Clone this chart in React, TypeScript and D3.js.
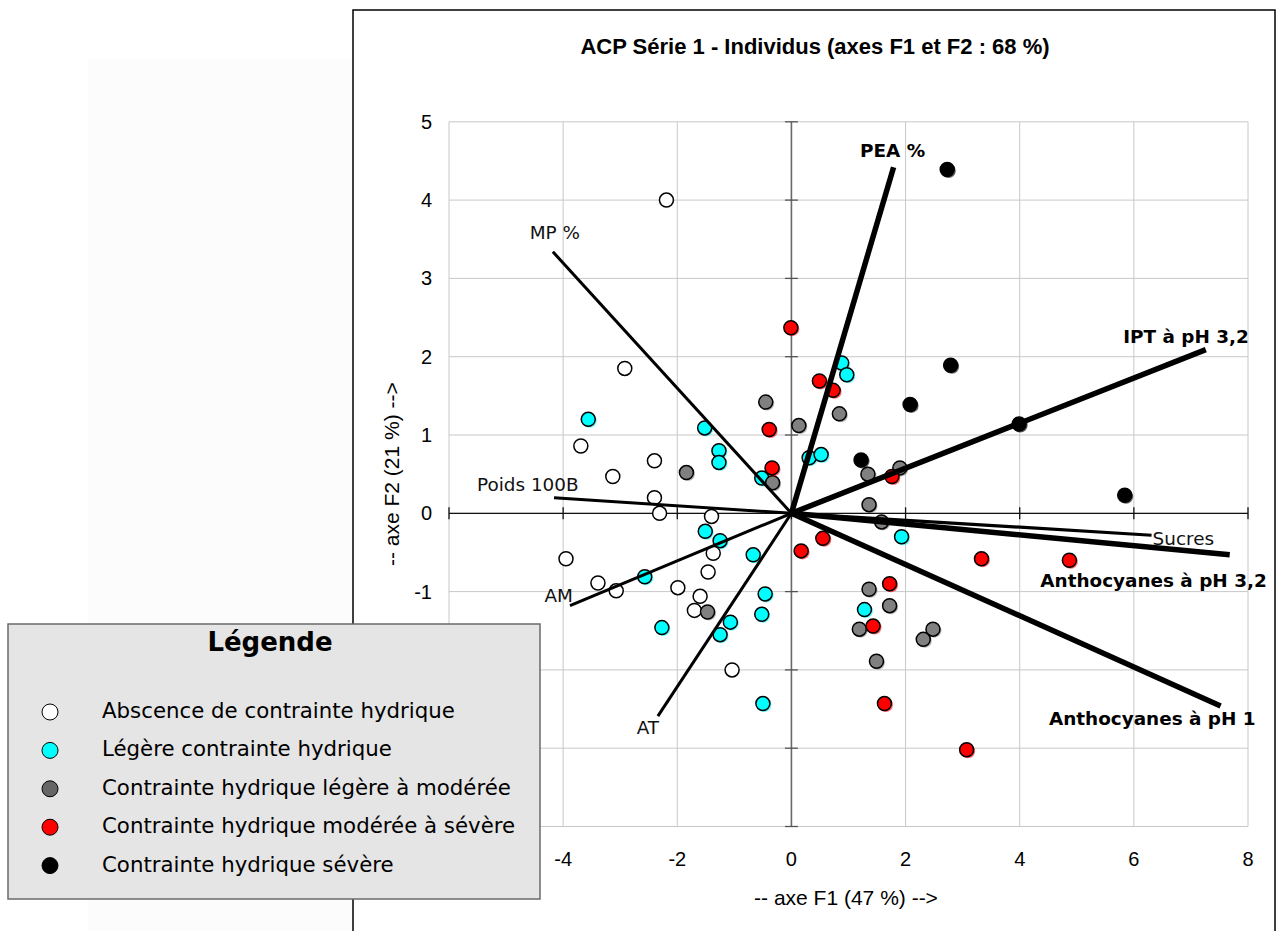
import React from "react";
import * as d3 from "d3";

// ---------- DATA ----------
const groupNames = [
  "Abscence de contrainte hydrique",
  "Légère contrainte hydrique",
  "Contrainte hydrique légère à modérée",
  "Contrainte hydrique modérée à sévère",
  "Contrainte hydrique sévère",
];

const absence: [number, number][] = [
  [-2.19, 4.0], [-2.92, 1.85], [-3.69, 0.86], [-2.4, 0.67], [-3.13, 0.47],
  [-2.4, 0.2], [-2.31, 0.0], [-1.4, -0.04], [-3.95, -0.58], [-3.39, -0.89],
  [-3.07, -0.99], [-1.99, -0.95], [-1.37, -0.51], [-1.46, -0.75], [-1.6, -1.06],
  [-1.7, -1.24], [-1.04, -2.0],
];
const legere: [number, number][] = [
  [-3.56, 1.2], [-1.52, 1.09], [-1.27, 0.8], [-1.27, 0.65], [-0.52, 0.45],
  [-1.51, -0.23], [-1.25, -0.35], [-0.67, -0.53], [-2.57, -0.81], [-0.46, -1.03],
  [-0.52, -1.29], [-1.07, -1.39], [-1.25, -1.55], [-2.27, -1.46], [-0.5, -2.43],
  [0.88, 1.92], [0.97, 1.77], [0.31, 0.71], [0.52, 0.75], [1.93, -0.3], [1.28, -1.23],
];
const legereModeree: [number, number][] = [
  [-0.45, 1.42], [-1.84, 0.52], [-0.33, 0.39], [0.13, 1.12], [-1.47, -1.26],
  [0.84, 1.27], [1.34, 0.5], [1.9, 0.58], [1.36, 0.11], [1.58, -0.11],
  [1.36, -0.97], [1.72, -1.18], [1.19, -1.48], [2.48, -1.48], [2.31, -1.61], [1.49, -1.89],
];
const modereeSevere: [number, number][] = [
  [-0.39, 1.07], [-0.34, 0.58], [-0.01, 2.37], [0.49, 1.69], [0.73, 1.57],
  [1.76, 0.47], [0.17, -0.48], [0.55, -0.32], [3.33, -0.58], [1.72, -0.9],
  [1.43, -1.44], [1.63, -2.43], [3.07, -3.02], [4.87, -0.6],
];
const severe: [number, number][] = [
  [2.73, 4.39], [2.79, 1.89], [2.08, 1.39], [1.22, 0.68], [3.99, 1.14], [5.84, 0.23],
];
const groupsData = [absence, legere, legereModeree, modereeSevere, severe];

const varNames = [
  "MP %", "PEA %", "IPT à pH 3,2", "Sucres", "Anthocyanes à pH 3,2",
  "Anthocyanes à pH 1", "Poids 100B", "AM", "AT",
];
const varF1 = [-4.18, 1.79, 7.26, 6.31, 7.68, 7.52, -4.16, -3.88, -2.34];
const varF2 = [3.34, 4.42, 2.09, -0.28, -0.53, -2.46, 0.2, -1.18, -2.59];

const xTicks = [-6, -4, -2, 0, 2, 4, 6, 8];
const yTicks = [-4, -3, -2, -1, 0, 1, 2, 3, 4, 5];
// tick labels that sit under the legend box in the reference (not visible)
const hiddenXLabels = [-6];
const hiddenYLabels = [-4, -3, -2];

// ---------- STYLE / LAYOUT ----------
const groupFill = ["#ffffff", "#00ffff", "#808080", "#ff0000", "#000000"];
const legendFill = ["#ffffff", "#00ffff", "#666666", "#ff0000", "#000000"];
const varBold = [false, true, true, false, true, true, false, false, false];
// label offsets in px relative to the arrow tip, and anchor
const varLabel: { dx: number; dy: number; anchor: string }[] = [
  { dx: 2, dy: -13, anchor: "middle" },
  { dx: -1, dy: -10, anchor: "middle" },
  { dx: 43, dy: -7, anchor: "end" },
  { dx: 1, dy: 10, anchor: "start" },
  { dx: 37, dy: 32, anchor: "end" },
  { dx: 35, dy: 19, anchor: "end" },
  { dx: -77, dy: -7, anchor: "start" },
  { dx: 3, dy: -4, anchor: "end" },
  { dx: -10, dy: 18, anchor: "middle" },
];

const W = 1276;
const H = 931;
const plot = { left: 449, right: 1248, top: 121.8, bottom: 826.5 };
const arial = "'Liberation Sans', Arial, sans-serif";
const verdana = "'DejaVu Sans', Verdana, sans-serif";

export default function App() {
  const x = d3.scaleLinear().domain([-6, 8]).range([plot.left, plot.right]);
  const y = d3.scaleLinear().domain([-4, 5]).range([plot.bottom, plot.top]);
  const x0 = x(0);
  const y0 = y(0);
  const gridX = d3.range(-6, 9, 2);
  const gridY = d3.range(-4, 6, 1);

  return (
    <svg
      width={W}
      height={H}
      style={{ position: "absolute", left: 0, top: 0, background: "#fff" }}
    >
      {/* faint background panel */}
      <rect x={88} y={59} width={266} height={H - 59} fill="#fcfcfc" />
      {/* chart frame */}
      <rect x={353} y={10} width={922} height={H + 20} fill="#fff" stroke="#000" strokeWidth={1.5} />

      <text
        x={815}
        y={54}
        textAnchor="middle"
        fontFamily={arial}
        fontWeight="bold"
        fontSize={22}
        fill="#000"
      >
        ACP Série 1 - Individus (axes F1 et F2 : 68 %)
      </text>

      {/* grid */}
      <g stroke="#c8c8c8" strokeWidth={1}>
        {gridX.map((v) => (
          <line key={"gx" + v} x1={x(v)} x2={x(v)} y1={plot.top} y2={plot.bottom} />
        ))}
        {gridY.map((v) => (
          <line key={"gy" + v} x1={plot.left} x2={plot.right} y1={y(v)} y2={y(v)} />
        ))}
      </g>

      {/* axes */}
      <line x1={x0} x2={x0} y1={plot.top} y2={plot.bottom} stroke="#6a6a6a" strokeWidth={1.6} />
      {yTicks.map((v) => (
        <line key={"yt" + v} x1={x0 - 6.5} x2={x0 + 6.5} y1={y(v)} y2={y(v)} stroke="#555" strokeWidth={1.3} />
      ))}
      <line x1={plot.left} x2={plot.right} y1={y0} y2={y0} stroke="#111" strokeWidth={1.3} />
      {xTicks.map((v) => (
        <line key={"xt" + v} x1={x(v)} x2={x(v)} y1={y0 - 6} y2={y0 + 6} stroke="#111" strokeWidth={1.3} />
      ))}

      {/* tick labels */}
      {yTicks
        .filter((v) => !hiddenYLabels.includes(v))
        .map((v) => (
          <text
            key={"yl" + v}
            x={432}
            y={y(v) + 7}
            textAnchor="end"
            fontFamily={arial}
            fontSize={20}
            fill="#000"
          >
            {v}
          </text>
        ))}
      {xTicks
        .filter((v) => !hiddenXLabels.includes(v))
        .map((v) => (
          <text
            key={"xl" + v}
            x={x(v)}
            y={866}
            textAnchor="middle"
            fontFamily={arial}
            fontSize={20}
            fill="#000"
          >
            {v}
          </text>
        ))}

      {/* axis titles */}
      <text x={846} y={905} textAnchor="middle" fontFamily={arial} fontSize={21} fill="#000">
        -- axe F1 (47 %) --&gt;
      </text>
      <text
        transform={`translate(399, ${(plot.top + plot.bottom) / 2}) rotate(-90)`}
        textAnchor="middle"
        fontFamily={arial}
        fontSize={21}
        fill="#000"
      >
        -- axe F2 (21 %) --&gt;
      </text>

      {/* points */}
      {groupsData.map((pts, gi) => (
        <g key={"g" + gi}>
          {gi > 0 &&
            pts.map((p, i) => (
              <circle
                key={"s" + i}
                cx={x(p[0]) + 1.3}
                cy={y(p[1]) + 1.3}
                r={7.2}
                fill={groupFill[gi]}
                opacity={0.6}
              />
            ))}
          {pts.map((p, i) => (
            <circle
              key={"c" + i}
              cx={x(p[0])}
              cy={y(p[1])}
              r={7}
              fill={groupFill[gi]}
              stroke="#000"
              strokeWidth={1.5}
            />
          ))}
        </g>
      ))}

      {/* variable vectors */}
      {varNames.map((name, i) => (
        <line
          key={"v" + i}
          x1={x0}
          y1={y0}
          x2={x(varF1[i])}
          y2={y(varF2[i])}
          stroke="#000"
          strokeWidth={varBold[i] ? 5.5 : name === "Sucres" ? 3.2 : 3}
        />
      ))}
      {varNames.map((name, i) => (
        <text
          key={"vl" + i}
          x={x(varF1[i]) + varLabel[i].dx}
          y={y(varF2[i]) + varLabel[i].dy}
          textAnchor={varLabel[i].anchor}
          fontFamily={verdana}
          fontWeight={varBold[i] ? "bold" : "normal"}
          fontSize={18.4}
          fill={varBold[i] ? "#000" : "#111"}
        >
          {name}
        </text>
      ))}

      {/* legend */}
      <g>
        <rect x={8} y={624} width={532} height={275} fill="#e5e5e5" stroke="#6a6a6a" strokeWidth={1.5} />
        <text x={270} y={651} textAnchor="middle" fontFamily={verdana} fontWeight="bold" fontSize={26} fill="#000">
          Légende
        </text>
        {groupNames.map((g, i) => (
          <g key={"lg" + i}>
            <circle cx={50} cy={712 + i * 38.4} r={8} fill={legendFill[i]} stroke="#000" strokeWidth={1} />
            <text x={102} y={718 + i * 38.4} fontFamily={verdana} fontSize={21.3} fill="#000">
              {g}
            </text>
          </g>
        ))}
      </g>
    </svg>
  );
}
